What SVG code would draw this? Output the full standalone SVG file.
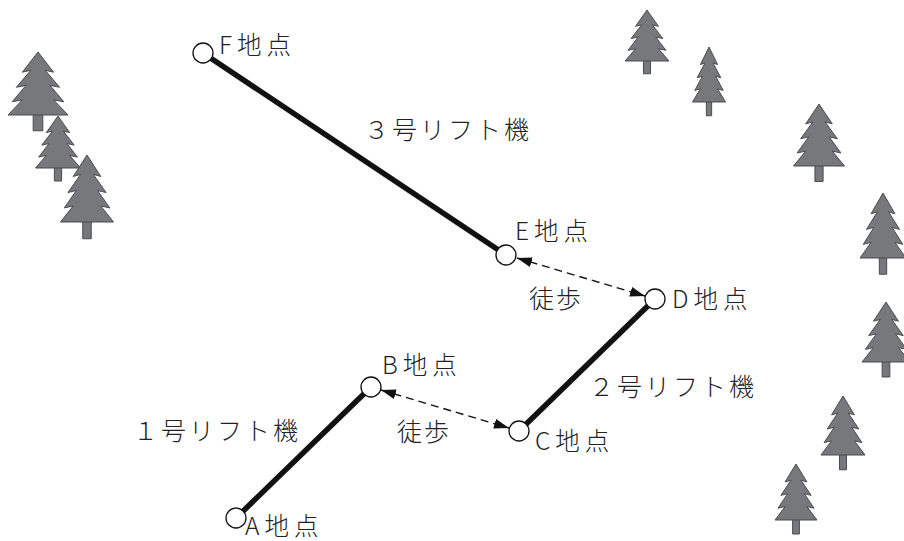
<svg xmlns="http://www.w3.org/2000/svg" width="904" height="541" viewBox="0 0 904 541">
  <style>
    .lift { stroke: #111; stroke-width: 5.5; stroke-linecap: butt; fill: none; }
    .walk { stroke: #111; stroke-width: 1.4; stroke-dasharray: 8 5; fill: none; marker-start: url(#head); marker-end: url(#head); }
    .stop { fill: #fff; stroke: #111; stroke-width: 1.3; }
    text { font-family: "Noto Sans CJK JP", "Noto Sans", sans-serif; fill: #222; font-weight: 300; }
    .pt { font-size: 24.5px; letter-spacing: 5px; }
    .ln { font-size: 25px; letter-spacing: 3px; }
    .wk { font-size: 25px; letter-spacing: 2px; }
  </style>
  <defs>
    <marker id="head" viewBox="0 0 15 10" refX="15" refY="5" markerWidth="15" markerHeight="10" markerUnits="userSpaceOnUse" orient="auto-start-reverse">
      <path d="M0,0 L15,5 L0,10 Z" fill="#111"/>
    </marker>
    <!-- pine tree: apex at (50,0), foliage base at y=100, 100 units wide -->
    <g id="pine" fill="#77787b" stroke="#4a4b4e" stroke-width="1" stroke-linejoin="miter">
      <rect x="42" y="99" width="16" height="26" vector-effect="non-scaling-stroke"/>
      <path vector-effect="non-scaling-stroke" d="M50,0 L76,32 L62,29 L86,56 L70,53 L93,79 L76,76 L100,100 L0,100 L24,76 L7,79 L30,53 L14,56 L38,29 L24,32 Z"/>
    </g>
  </defs>

  <!-- forest -->
  <g id="trees">
    <use href="#pine" transform="translate(8,52) scale(0.60,0.63)"/>
    <use href="#pine" transform="translate(35.5,116) scale(0.45,0.52)"/>
    <use href="#pine" transform="translate(60.5,155) scale(0.53,0.67)"/>
    <use href="#pine" transform="translate(625,10) scale(0.44,0.51)"/>
    <use href="#pine" transform="translate(692.5,47) scale(0.33,0.55)"/>
    <use href="#pine" transform="translate(793.5,104) scale(0.51,0.62)"/>
    <use href="#pine" transform="translate(860,193) scale(0.46,0.65)"/>
    <use href="#pine" transform="translate(862,302) scale(0.48,0.60)"/>
    <use href="#pine" transform="translate(821,396) scale(0.44,0.59)"/>
    <use href="#pine" transform="translate(775,464) scale(0.42,0.56)"/>
  </g>

  <!-- lifts and walking paths -->
  <g id="connectors">
    <line class="lift" x1="203" y1="53" x2="506" y2="255"/>
    <line class="lift" x1="655" y1="299" x2="519" y2="431"/>
    <line class="lift" x1="371" y1="387" x2="236" y2="518"/>
    <line class="walk" x1="517" y1="258" x2="645" y2="296"/>
    <line class="walk" x1="381" y1="390" x2="509" y2="428"/>
  </g>

  <g id="pointF"><circle class="stop" cx="203" cy="53" r="10"/><text class="pt" x="219" y="54">F地点</text></g>
  <g id="pointE"><circle class="stop" cx="506" cy="255" r="10"/><text class="pt" x="515" y="240">E地点</text></g>
  <g id="pointD"><circle class="stop" cx="655" cy="299" r="10"/><text class="pt" x="672" y="308">D地点</text></g>
  <g id="pointC"><circle class="stop" cx="519" cy="431" r="10"/><text class="pt" x="535" y="450">C地点</text></g>
  <g id="pointB"><circle class="stop" cx="371" cy="387" r="10"/><text class="pt" x="382" y="374">B地点</text></g>
  <g id="pointA"><circle class="stop" cx="236" cy="518" r="10"/><text class="pt" x="245" y="535">A地点</text></g>

  <g id="labels">
    <text class="ln" x="364" y="139">３号リフト機</text>
    <text class="ln" x="589" y="396">２号リフト機</text>
    <text class="ln" x="133" y="440">１号リフト機</text>
    <text class="wk" x="529" y="308">徒歩</text>
    <text class="wk" x="397" y="441">徒歩</text>
  </g>
</svg>
